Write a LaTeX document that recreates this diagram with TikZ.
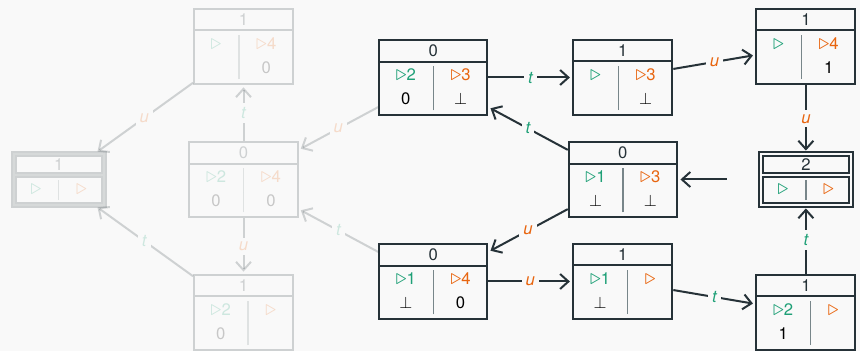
\documentclass[tikz,border=0pt]{standalone}
\usepackage{fontspec}
\setmainfont{TeX Gyre Heros}
\usepackage{array}
\usepackage{xcolor}
\usetikzlibrary{arrows.meta, positioning, shapes.multipart}

\definecolor{bgcol}{HTML}{F9F9F9}
\definecolor{dark}{HTML}{263238}
\definecolor{tgreen}{HTML}{1FA077}
\definecolor{uorange}{HTML}{E8650F}
\definecolor{rulegray}{HTML}{78868A}

% markers and cell bodies
\newcommand{\tri}{\scalebox{1.3}{$\triangleright$}}
\newcommand{\gm}[1]{\textcolor{tgreen}{\tri#1}}
\newcommand{\om}[1]{\textcolor{uorange}{\tri#1}}
\newcommand{\cells}[4]{%
  \setlength{\tabcolsep}{10pt}%
  \begin{tabular}{c!{\color{rulegray}\vrule width .8pt}c}#1 & #3\\[2.4pt] #2 & #4\end{tabular}}
\newcommand{\cellsone}[2]{%
  \setlength{\tabcolsep}{10pt}%
  \begin{tabular}{c!{\color{rulegray}\vrule width .8pt}c}#1 & #2\end{tabular}}

\begin{document}
\begin{tikzpicture}[node distance=4cm,
  box/.style={draw=dark, line width=1.2pt, text=dark, rectangle split,
    rectangle split parts=2, inner xsep=0pt, inner ysep=2.25pt},
  fbox/.style={box, double=bgcol, double distance=1.2pt},
  faded/.style={opacity=.2},
  dim/.style={every edge/.append style={draw opacity=.2},
    every node/.append style={text opacity=.2}},
  >={Straight Barb[length=5pt,width=9pt]},
  every edge/.append style={draw=dark, line width=1.2pt, shorten >=1.5pt},
  tl/.style={fill=bgcol, inner sep=2.4pt, text=tgreen, font=\itshape},
  ul/.style={fill=bgcol, inner sep=2.4pt, text=uorange, font=\itshape}]

\path[use as bounding box, fill=bgcol] (-146.1pt,-102.9pt) rectangle (369.9pt,107.7pt);

% faded part
\node (Q3) [box, faded] at (0,0) {0\nodepart{two}\cells{\gm{2}}{0}{\om{4}}{0}};
\node (Q1) [fbox, faded, left of=Q3, xshift=3pt] {1\nodepart{two}\cellsone{\gm{}}{\om{}}};
\node (Q2) [box, faded, above of=Q3, yshift=-34pt] {1\nodepart{two}\cells{\gm{}}{}{\om{4}}{0}};
\node (Q4) [box, faded, below of=Q3, yshift=34pt] {1\nodepart{two}\cells{\gm{2}}{0}{\om{}}{}};

% active part
\node (Q7) [box, right of=Q3, xshift=4cm] {0\nodepart{two}\cells{\gm{1}}{$\bot$}{\om{3}}{$\bot$}};
\node (Q5) [box, left of=Q7, yshift=61.2pt] {0\nodepart{two}\cells{\gm{2}}{0}{\om{3}}{$\bot$}};
\node (Q6) [box, left of=Q7, yshift=-61.2pt] {0\nodepart{two}\cells{\gm{1}}{$\bot$}{\om{4}}{0}};
\node (Q8) [box, right of=Q5] {1\nodepart{two}\cells{\gm{}}{}{\om{3}}{$\bot$}};
\node (Q9) [box, right of=Q6] {1\nodepart{two}\cells{\gm{1}}{$\bot$}{\om{}}{}};
\node (Q11) [fbox, right of=Q7, xshift=-4pt] {2\nodepart{two}\cellsone{\gm{}}{\om{}}};
\node (Q10) [box, above of=Q11, yshift=-34pt] {1\nodepart{two}\cells{\gm{}}{}{\om{4}}{1}};
\node (Q12) [box, below of=Q11, yshift=34pt] {1\nodepart{two}\cells{\gm{2}}{1}{\om{}}{}};

\path[->, dim] (Q5) edge node[ul] {u} (Q3);
\path[->, dim] (Q6) edge node[tl] {t} (Q3);
\path[->, dim] (Q3) edge node[tl] {t} (Q2);
\path[->, dim] (Q3) edge node[ul] {u} (Q4);
\path[->, dim] (Q2) edge node[ul] {u} (Q1);
\path[->, dim] (Q4) edge node[tl] {t} (Q1);

\path[->] (Q5) edge node[tl] {t} (Q8);
\path[->] (Q8) edge node[ul] {u} (Q10);
\path[->] (Q10) edge node[ul] {u} (Q11);
\path[->] (Q11) edge[shorten <=20pt] (Q7);
\path[->] (Q7) edge node[tl] {t} (Q5);
\path[->] (Q7) edge node[ul] {u} (Q6);
\path[->] (Q6) edge node[ul] {u} (Q9);
\path[->] (Q9) edge node[tl] {t} (Q12);
\path[->] (Q12) edge node[tl] {t} (Q11);
\end{tikzpicture}
\end{document}
